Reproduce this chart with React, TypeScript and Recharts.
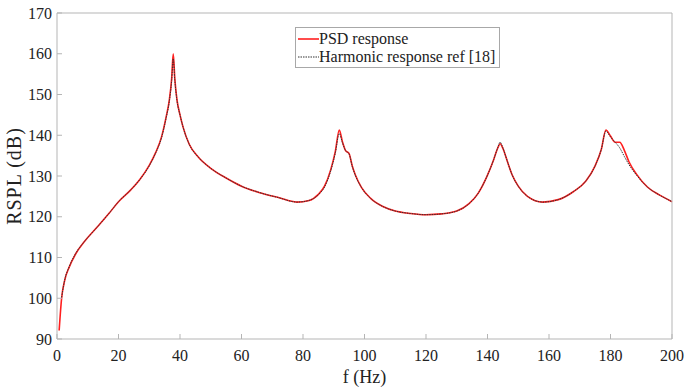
import { LineChart, Line, XAxis, YAxis, Legend, Label } from "recharts";

// frequency points (Hz)
const freqs = [
  0.7, 1.5, 2.5, 4, 6, 9, 13, 17, 20, 24, 27, 30, 32, 34, 35.5, 36.5, 37.3, 37.8, 38.3, 39,
  40, 41, 43, 46, 50, 55, 60, 66, 72, 78, 82, 85, 87, 89, 90.5, 91.8, 92.8, 93.8, 95, 96,
  97, 99, 102, 106, 110, 115, 120, 125, 130, 134, 137, 140, 142, 143.3, 144.1, 145, 146.5, 148, 150, 153,
  158, 163, 168, 172, 175, 177, 178.5, 180, 181.5, 183, 184.5, 186, 188.5, 192, 196, 200,
];

// PSD response (dB)
const psd = [
  92.1, 100, 104.4, 107.7, 110.8, 114, 117.4, 120.9, 123.7, 126.6, 129.2, 132.6, 135.6, 139.6, 144.5, 148.5, 154, 160, 154, 148.8,
  145, 142, 137.8, 134.6, 131.9, 129.5, 127.5, 125.9, 124.7, 123.6, 124, 125.5, 127.5, 131.5, 136, 141.3, 138.5, 136.3, 135.5, 132.5,
  130.3, 127.2, 124.5, 122.5, 121.4, 120.8, 120.5, 120.7, 121.4, 123.2, 125.8, 130.2, 134, 136.8, 137.9, 136.8, 133.5, 130.3, 127.5, 125,
  123.6, 124.2, 126.2, 128.8, 132.5, 136.5, 141.3, 139.8, 138.3, 138.3, 136.3, 133.5, 130.4, 127.3, 125.3, 123.7,
];

// Harmonic response ref [18] (dB)
const harmonic = [
  null, 100.2, 104.5, 107.8, 110.9, 114, 117.4, 120.9, 123.7, 126.6, 129.2, 132.5, 135.5, 139.4, 144.3, 148.2, 153.5, 158.8, 153.6, 148.6,
  145, 142, 137.8, 134.6, 131.9, 129.5, 127.5, 125.9, 124.7, 123.6, 124, 125.4, 127.3, 131.2, 135.6, 140.4, 138.2, 136.3, 135.4, 132.4,
  130.2, 127.2, 124.5, 122.5, 121.4, 120.8, 120.5, 120.7, 121.4, 123.2, 125.8, 130.2, 134, 136.9, 138.3, 136.9, 133.5, 130.3, 127.5, 125,
  123.6, 124.2, 126.2, 128.8, 132.5, 136.5, 141, 139.6, 138.3, 136.9, 134.8, 132.8, 130.2, 127.3, 125.3, 123.7,
];

const xTicks = [0, 20, 40, 60, 80, 100, 120, 140, 160, 180, 200];
const yTicks = [90, 100, 110, 120, 130, 140, 150, 160, 170];

const data = freqs.map((f, i) => ({ f, psd: psd[i], harmonic: harmonic[i] }));

const FONT = '"Liberation Serif", "Times New Roman", serif';
const FRAME = "#b5b5b5";
const TEXT = "#222";

const LegendBox = () => (
  <div
    style={{
      background: "#fff",
      border: "1px solid #a8a8a8",
      padding: "2px 4px 1px 2px",
      fontFamily: FONT,
      fontSize: 16,
      color: TEXT,
      lineHeight: "18px",
      whiteSpace: "nowrap",
    }}
  >
    <div style={{ display: "flex", alignItems: "center" }}>
      <svg width={21} height={10}>
        <line x1={0} y1={5} x2={21} y2={5} stroke="#ff1f1f" strokeWidth={1.6} />
      </svg>
      <span>PSD response</span>
    </div>
    <div style={{ display: "flex", alignItems: "center" }}>
      <svg width={21} height={10}>
        <line x1={0} y1={5} x2={21} y2={5} stroke="#333" strokeWidth={1.2} strokeDasharray="1.5 1" />
      </svg>
      <span>Harmonic response ref [18]</span>
    </div>
  </div>
);

export default function App() {
  return (
    <div>
      <style>{`body{margin:0;background:#fff}`}</style>
      <LineChart
        width={687}
        height={389}
        data={data}
        margin={{ top: 12, right: 14, bottom: 0, left: 0 }}
      >
        <XAxis
          dataKey="f"
          type="number"
          domain={[0, 200]}
          ticks={xTicks}
          height={50}
          stroke={FRAME}
          tickSize={-5}
          tickMargin={16}
          tick={{ fill: TEXT, fontFamily: FONT, fontSize: 16 }}
        >
          <Label
            value="f (Hz)"
            position="insideBottom"
            offset={6}
            style={{ fill: TEXT, fontFamily: FONT, fontSize: 18 }}
          />
        </XAxis>
        <XAxis
          xAxisId="top"
          dataKey="f"
          type="number"
          orientation="top"
          domain={[0, 200]}
          ticks={xTicks}
          height={1}
          stroke={FRAME}
          tickSize={-5}
          tick={false}
        />
        <YAxis
          type="number"
          domain={[90, 170]}
          ticks={yTicks}
          width={57}
          stroke={FRAME}
          tickSize={-5}
          tickMargin={10}
          tick={{ fill: TEXT, fontFamily: FONT, fontSize: 16 }}
        >
          <Label
            value="RSPL (dB)"
            angle={-90}
            position="insideLeft"
            offset={14}
            style={{ fill: TEXT, fontFamily: FONT, fontSize: 20, textAnchor: "middle", letterSpacing: 1 }}
          />
        </YAxis>
        <YAxis
          yAxisId="right"
          type="number"
          orientation="right"
          domain={[90, 170]}
          ticks={yTicks}
          width={1}
          stroke={FRAME}
          tickSize={-5}
          tick={false}
        />
        <Legend
          layout="horizontal"
          verticalAlign="middle"
          align="center"
          wrapperStyle={{ top: 27, left: 295, width: "auto" }}
          content={() => <LegendBox />}
        />
        {/* invisible series that keeps the top/right frame axes alive */}
        <Line
          xAxisId="top"
          yAxisId="right"
          dataKey="psd"
          stroke="none"
          dot={false}
          legendType="none"
          isAnimationActive={false}
        />
        <Line
          dataKey="psd"
          name="PSD response"
          type="monotone"
          stroke="#ff1f1f"
          strokeWidth={1.6}
          dot={false}
          isAnimationActive={false}
        />
        <Line
          dataKey="harmonic"
          name="Harmonic response ref [18]"
          type="monotone"
          stroke="#333"
          strokeWidth={1}
          strokeDasharray="1.5 1"
          dot={false}
          isAnimationActive={false}
        />
      </LineChart>
    </div>
  );
}
